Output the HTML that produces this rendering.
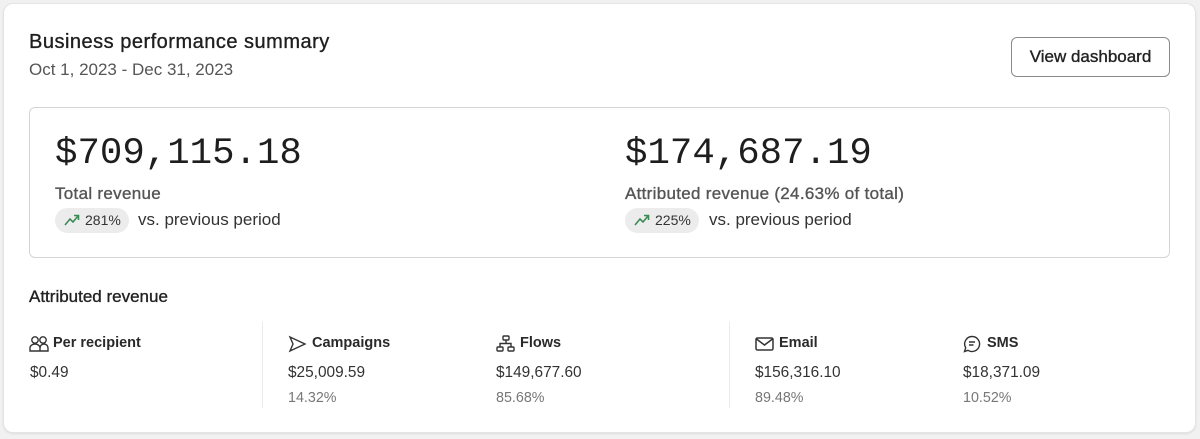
<!DOCTYPE html>
<html><head><meta charset="utf-8"><style>
*{margin:0;padding:0;box-sizing:border-box}
body{width:1200px;height:439px;background:#f1f1f1;font-family:"Liberation Sans",sans-serif;color:#222;position:relative;overflow:hidden}
.card{position:absolute;left:3px;top:3px;width:1193px;height:430px;background:#fff;border-radius:10px;border:1px solid #e4e4e4;box-shadow:0 1px 2px rgba(0,0,0,.08)}
.a{position:absolute;white-space:nowrap}
.m{-webkit-text-stroke:0.35px currentColor}
.title{left:29px;top:31px;font-size:20px;color:#1f1f1f;letter-spacing:0.5px}
.date{left:29px;top:60px;font-size:17px;color:#555}
.btn{left:1011px;top:37px;width:159px;height:40px;border:1px solid #8a8a8a;border-radius:6px;font-size:17px;color:#222;text-align:center;line-height:38px}
.box{left:29px;top:107px;width:1141px;height:151px;border:1px solid #d4d4d4;border-radius:6px}
.big{font-family:"Liberation Mono",monospace;font-size:37.4px;color:#1e1e1e;top:133px}
.lbl{font-size:17px;color:#555;top:184px;letter-spacing:0.3px}
.badge{top:208px;height:25px;border-radius:13px;background:#ececec;font-size:14px;color:#333;line-height:25px;padding-left:30px;padding-right:8px}
.badge svg{position:absolute;left:9px;top:5px}
.vs{top:210px;font-size:17px;color:#333}
.sec{left:29px;top:287px;font-size:17px;color:#222}
.h{top:335px;font-size:14.5px;font-weight:bold;color:#2a2a2a;padding-left:24px}
.h svg{position:absolute;left:0;top:0}
.v{top:364px;font-size:15.4px;color:#333}
.p{top:390px;font-size:14.3px;color:#777}
.div{width:1px;background:#ececec;top:322px;height:86px}
</style></head><body>
<div class="card"></div>
<div class="a title m">Business performance summary</div>
<div class="a date">Oct 1, 2023 - Dec 31, 2023</div>
<div class="a btn m">View dashboard</div>
<div class="a box"></div>
<div class="a big" style="left:55px">$709,115.18</div>
<div class="a lbl m" style="left:55px">Total revenue</div>
<div class="a badge" style="left:55px"><svg width="16" height="14" viewBox="0 0 16 14"><path d="M1 12 L6 6 L9 9 L14 3 M10 2.5 H14.5 V7" fill="none" stroke="#3a8a55" stroke-width="1.6"/></svg>281%</div>
<div class="a vs" style="left:138px">vs. previous period</div>
<div class="a big" style="left:625px">$174,687.19</div>
<div class="a lbl m" style="left:625px">Attributed revenue (24.63% of total)</div>
<div class="a badge" style="left:625px"><svg width="16" height="14" viewBox="0 0 16 14"><path d="M1 12 L6 6 L9 9 L14 3 M10 2.5 H14.5 V7" fill="none" stroke="#3a8a55" stroke-width="1.6"/></svg>225%</div>
<div class="a vs" style="left:709px">vs. previous period</div>
<div class="a sec m">Attributed revenue</div>
<div class="a div" style="left:262px"></div>
<div class="a div" style="left:729px"></div>

<div class="a h" style="left:29px"><svg width="20" height="18" viewBox="0 0 20 18" fill="none" stroke="#333" stroke-width="1.4"><circle cx="6" cy="5" r="3.2"/><circle cx="14" cy="5" r="3.2"/><path d="M1 16 V13 a5 4 0 0 1 10 0 V16 Z M11 13 a4 4 0 0 1 8 0 V16 H11"/></svg>Per recipient</div>
<div class="a v" style="left:30px">$0.49</div>

<div class="a h" style="left:288px"><svg width="20" height="18" viewBox="0 0 20 18" fill="none" stroke="#333" stroke-width="1.4"><path d="M2 2 L17 9 L2 16 L5 9 Z"/></svg>Campaigns</div>
<div class="a v" style="left:288px">$25,009.59</div>
<div class="a p" style="left:288px">14.32%</div>

<div class="a h" style="left:496px"><svg width="20" height="18" viewBox="0 0 20 18" fill="none" stroke="#333" stroke-width="1.4"><rect x="7" y="1" width="6" height="4" rx="1"/><rect x="1" y="12" width="6" height="4" rx="1"/><rect x="12" y="12" width="6" height="4" rx="1"/><path d="M10 5 V8.5 M4 12 V8.5 H15 V12"/></svg>Flows</div>
<div class="a v" style="left:496px">$149,677.60</div>
<div class="a p" style="left:496px">85.68%</div>

<div class="a h" style="left:755px"><svg width="20" height="18" viewBox="0 0 20 18" fill="none" stroke="#333" stroke-width="1.5"><rect x="1" y="3" width="17" height="12" rx="1.5"/><path d="M1.5 4 L9.5 10 L17.5 4"/></svg>Email</div>
<div class="a v" style="left:755px">$156,316.10</div>
<div class="a p" style="left:755px">89.48%</div>

<div class="a h" style="left:963px"><svg width="20" height="18" viewBox="0 0 20 18" fill="none" stroke="#333" stroke-width="1.4"><path d="M9 1.5 a7.5 7.5 0 1 1 -4 13.8 L1.5 16.5 L2.7 12.8 A7.5 7.5 0 0 1 9 1.5 Z M6 7 H12 M6 10 H10.5"/></svg>SMS</div>
<div class="a v" style="left:963px">$18,371.09</div>
<div class="a p" style="left:963px">10.52%</div>
</body></html>
